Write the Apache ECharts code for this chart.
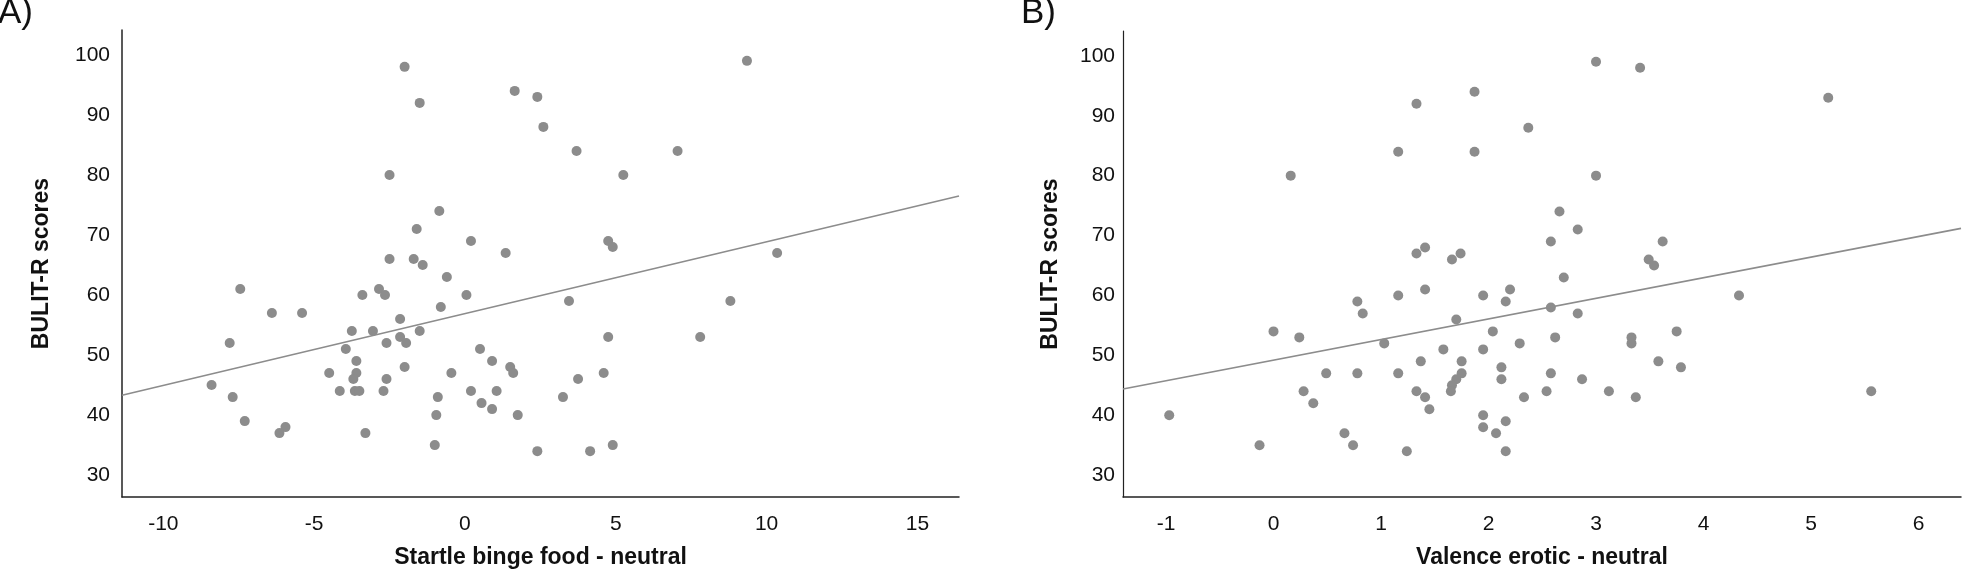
<!DOCTYPE html>
<html>
<head>
<meta charset="utf-8">
<title>BULIT-R scatter</title>
<script src="https://cdn.jsdelivr.net/npm/echarts/dist/echarts.min.js"></script>
<style>
  html, body { margin: 0; padding: 0; background: #fff; }
  #main { width: 1968px; height: 574px; }
</style>
</head>
<body>
<div id="main"></div>
<script>
// A) startle binge food - neutral
const startleX = [
  -2.0, -1.5, -2.5, -0.85, -1.6, 0.2, -2.5, -1.7, -1.4, -0.6,
  -7.45, -3.4, -2.85, -2.65, 0.05, -6.4, -5.4, -0.8, -2.15, -3.75,
  -3.05, -1.5, -2.15, -7.8, -2.6, -1.95, -3.95, 0.5, -3.6, 0.9,
  -2.0, -4.5, -3.6, -0.45, -3.7, -2.6, -8.4, -4.15, -3.65, -3.5,
  -2.7, 0.2, 1.05, -7.7, -0.9, 0.55, 0.9, -7.3, -0.95, -5.95,
  -6.15, -3.3, -1.0, 3.45, 8.8, 4.75, 7.8, 1.5, 1.6, 4.6,
  3.75, 3.25, 1.75, 2.4, 4.15, 4.9, 1.65, 2.4, 2.6, 9.35,
  3.7, 7.05, 5.25, 1.35, 4.75, 4.9, 10.35
]
const bulitA = [
  98, 92, 80, 74, 71, 69, 66, 66, 65, 63,
  61, 60, 61, 60, 60, 57, 57, 58, 56, 54,
  54, 54, 53, 52, 52, 52, 51, 51, 49, 49,
  48, 47, 47, 47, 46, 46, 45, 44, 44, 44,
  44, 44, 44, 43, 43, 42, 41, 39, 40, 38,
  37, 37, 35, 59, 59, 53, 53, 48, 47, 47,
  46, 43, 40, 34, 34, 35, 94, 93, 88, 99,
  84, 84, 80, 67, 69, 68, 67
]

// B) valence erotic - neutral
const valenceX = [
  1.87, 1.33, 1.16, 1.87, 0.16, 1.33, 1.41, 1.66, 1.74, 1.41,
  1.16, 1.95, 3.0, 3.41, 5.16, 2.37, 3.0, 2.66, 2.83, 2.58,
  3.62, 3.49, 3.54, 2.7, 2.2, 4.33, 0.78, 0.83, 0.0, 0.24,
  1.03, 1.7, 2.04, 1.58, 1.95, 1.37, 1.75, 0.49, 0.78, 1.16,
  1.75, 1.7, 1.66, 1.65, 2.12, 2.12, 0.28, 0.37, 1.33, 1.41,
  1.45, -0.97, 1.95, 1.95, 2.07, 0.66, -0.13, 0.74, 1.24, 2.16,
  2.58, 2.83, 2.29, 2.62, 3.33, 3.33, 3.75, 3.58, 3.79, 2.58,
  2.87, 2.54, 3.12, 2.33, 3.37, 5.56, 2.16, 2.16
]
const bulitB = [
  94, 92, 84, 84, 80, 67, 68, 66, 67, 61,
  60, 60, 99, 98, 93, 88, 80, 74, 71, 69,
  69, 66, 65, 63, 61, 60, 59, 57, 54, 53,
  52, 56, 54, 51, 51, 49, 49, 47, 47, 47,
  47, 46, 45, 44, 48, 46, 44, 42, 44, 43,
  41, 40, 40, 38, 37, 37, 35, 35, 34, 59,
  58, 57, 52, 53, 53, 52, 54, 49, 48, 47,
  46, 44, 44, 43, 43, 44, 39, 34
]

const yTicks = [30, 40, 50, 60, 70, 80, 90, 100]
const startleTicks = [-10, -5, 0, 5, 10, 15]
const valenceTicks = [-1, 0, 1, 2, 3, 4, 5, 6]

// fit lines
const fitA = { intercept: 56.9, slope: 1.196 }
const fitB = { intercept: 49.2, slope: 3.44 }

const rangeA = [-11.37, 16.38]
const rangeB = [-1.40, 6.395]
const rangeY = [26.36, 104.14]

const font = 'Liberation Sans'
const textColor = '#111'
const dotColor = '#8c8c8c'

function pairs(xs, ys) {
  return xs.map((x, i) => [x, ys[i]])
}
function fitLine(fit, range) {
  return range.map(x => [x, fit.intercept + fit.slope * x])
}

function xAxisOf(idx, range, ticks, name) {
  return {
    type: 'value',
    gridIndex: idx,
    min: range[0],
    max: range[1],
    name: name,
    nameLocation: 'middle',
    nameGap: 49,
    nameTextStyle: { fontFamily: font, fontSize: 23, fontWeight: 'bold', color: textColor },
    splitLine: { show: false },
    axisTick: { show: false },
    axisLine: { onZero: false, lineStyle: { color: '#222', width: 1.5 } },
    axisLabel: {
      customValues: ticks,
      margin: 17,
      fontFamily: font,
      fontSize: 21,
      color: textColor
    }
  }
}
function yAxisOf(idx, margin, gap, lineWidth) {
  return {
    type: 'value',
    gridIndex: idx,
    min: rangeY[0],
    max: rangeY[1],
    name: 'BULIT-R scores',
    nameLocation: 'middle',
    nameGap: gap,
    nameTextStyle: { fontFamily: font, fontSize: 23, fontWeight: 'bold', color: textColor },
    splitLine: { show: false },
    axisTick: { show: false },
    axisLine: { onZero: false, lineStyle: { color: '#222', width: lineWidth } },
    axisLabel: {
      customValues: yTicks,
      margin: margin,
      fontFamily: font,
      fontSize: 21,
      color: textColor
    }
  }
}

const option = {
  animation: false,
  backgroundColor: '#fff',
  title: [
    { text: 'A)', left: -2, top: -4, padding: 0, textStyle: { fontFamily: font, fontSize: 35, fontWeight: 'normal', color: textColor } },
    { text: 'B)', left: 1021, top: -4, padding: 0, textStyle: { fontFamily: font, fontSize: 35, fontWeight: 'normal', color: textColor } }
  ],
  grid: [
    { left: 122, top: 30, width: 837, height: 470 },
    { left: 1123, top: 31, width: 838, height: 470 }
  ],
  xAxis: [
    xAxisOf(0, rangeA, startleTicks, 'Startle binge food - neutral'),
    xAxisOf(1, rangeB, valenceTicks, 'Valence erotic - neutral')
  ],
  yAxis: [
    yAxisOf(0, 12, 69, 1.5),
    yAxisOf(1, 8, 61, 1.2)
  ],
  series: [
    {
      type: 'line',
      xAxisIndex: 0,
      yAxisIndex: 0,
      data: fitLine(fitA, rangeA),
      showSymbol: false,
      lineStyle: { color: dotColor, width: 1.6 },
      silent: true
    },
    {
      type: 'scatter',
      xAxisIndex: 0,
      yAxisIndex: 0,
      data: pairs(startleX, bulitA),
      symbolSize: 10,
      itemStyle: { color: dotColor, opacity: 1 }
    },
    {
      type: 'line',
      xAxisIndex: 1,
      yAxisIndex: 1,
      data: fitLine(fitB, rangeB),
      showSymbol: false,
      lineStyle: { color: dotColor, width: 1.6 },
      silent: true
    },
    {
      type: 'scatter',
      xAxisIndex: 1,
      yAxisIndex: 1,
      data: pairs(valenceX, bulitB),
      symbolSize: 10,
      itemStyle: { color: dotColor, opacity: 1 }
    }
  ]
}

const myChart = echarts.init(document.getElementById('main'))
myChart.setOption(option)
</script>
</body>
</html>
